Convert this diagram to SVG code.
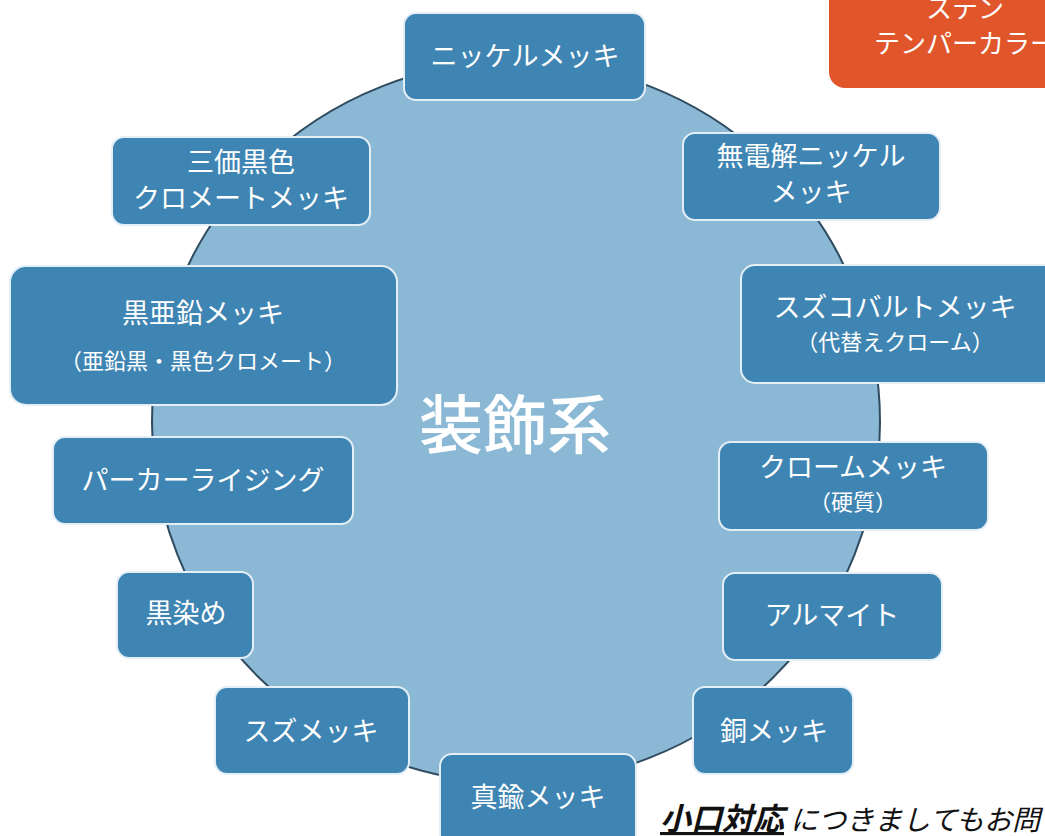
<svg xmlns="http://www.w3.org/2000/svg" width="1045" height="836" viewBox="0 0 1045 836">
<style>
.n{fill:#3f85b3;stroke:#e3eef6;stroke-width:2}
.t{font-family:"Noto Sans CJK JP","Noto Sans",sans-serif;fill:#ffffff;text-anchor:middle}
.l{font-size:27px}
.s{font-size:22px}
</style>
<rect x="0" y="0" width="1045" height="836" fill="#ffffff"/>
<g id="orange">
<rect x="829" y="-20" width="240" height="108" rx="16" fill="#e0562a"/>
<text class="t" x="965" y="18" font-size="26">ステン</text>
<text class="t" x="965" y="53" font-size="26">テンパーカラー</text>
</g>
<g id="center">
<ellipse cx="516" cy="422" rx="364" ry="361" fill="#8bb9d5" stroke="#2f4b5f" stroke-width="2"/>
<text class="t" x="515" y="448" font-size="64" font-weight="500">装飾系</text>
</g>
<g id="connectors"></g>
<g id="n1"><rect class="n" x="404" y="13" width="241" height="87" rx="12"/><text class="t l" x="525" y="66">ニッケルメッキ</text></g>
<g id="n2"><rect class="n" x="683" y="133" width="257" height="87" rx="12"/><text class="t l" x="811" y="166">無電解ニッケル</text><text class="t l" x="811" y="202">メッキ</text></g>
<g id="n3"><rect class="n" x="741" y="265" width="320" height="118" rx="14"/><text class="t l" x="895" y="317">スズコバルトメッキ</text><text class="t s" x="895" y="350">（代替えクローム）</text></g>
<g id="n4"><rect class="n" x="719" y="442" width="269" height="88" rx="12"/><text class="t l" x="853" y="477">クロームメッキ</text><text class="t s" x="853" y="510">（硬質）</text></g>
<g id="n5"><rect class="n" x="723" y="573" width="219" height="87" rx="12"/><text class="t l" x="832" y="625">アルマイト</text></g>
<g id="n6"><rect class="n" x="693" y="687" width="160" height="87" rx="12"/><text class="t l" x="774" y="741">銅メッキ</text></g>
<g id="n7"><rect class="n" x="440" y="754" width="196" height="100" rx="12"/><text class="t l" x="538" y="807">真鍮メッキ</text></g>
<g id="n8"><rect class="n" x="215" y="687" width="194" height="87" rx="12"/><text class="t l" x="311" y="741">スズメッキ</text></g>
<g id="n9"><rect class="n" x="117" y="572" width="136" height="86" rx="12"/><text class="t l" x="186" y="623">黒染め</text></g>
<g id="n10"><rect class="n" x="53" y="437" width="300" height="87" rx="12"/><text class="t l" x="203" y="490">パーカーライジング</text></g>
<g id="n11"><rect class="n" x="10" y="266" width="387" height="139" rx="16"/><text class="t l" x="203" y="323">黒亜鉛メッキ</text><text class="t s" x="203" y="369">（亜鉛黒・黒色クロメート）</text></g>
<g id="n12"><rect class="n" x="112" y="137" width="258" height="88" rx="12"/><text class="t l" x="241" y="172">三価黒色</text><text class="t l" x="241" y="208">クロメートメッキ</text></g>
<g id="note">
<text x="660" y="830" font-family="'Noto Sans CJK JP','Noto Sans',sans-serif" font-size="28" font-style="italic" fill="#111111"><tspan font-weight="bold" text-decoration="underline" font-size="31">小口対応</tspan> につきましてもお問</text>
</g>
</svg>
